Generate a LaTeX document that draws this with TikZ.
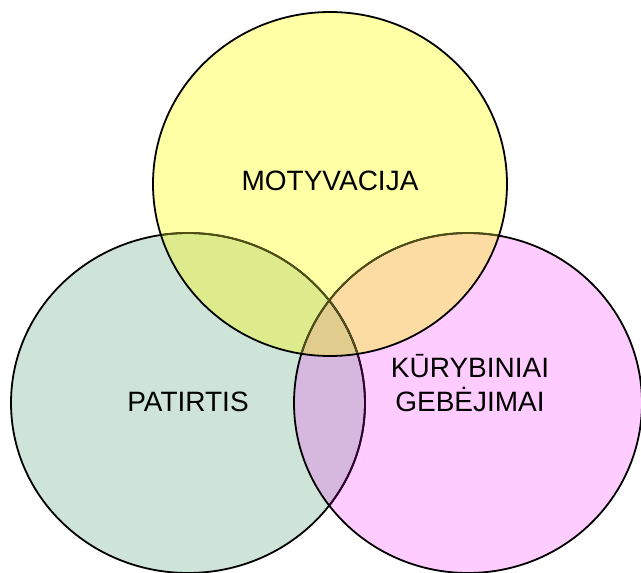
\documentclass[tikz,border=0pt]{standalone}
\usepackage{fontspec}
\setmainfont{Liberation Sans}
\definecolor{cY}{RGB}{255,255,166}
\definecolor{cG}{RGB}{206,228,216}
\definecolor{cP}{RGB}{255,204,255}
\definecolor{cGY}{RGB}{221,235,140}
\definecolor{cPY}{RGB}{253,220,164}
\definecolor{cGP}{RGB}{214,184,222}
\definecolor{cC}{RGB}{224,204,140}
\definecolor{lOl}{RGB}{80,80,20}
\definecolor{lPu}{RGB}{50,0,50}
\tikzset{
  outl/.style={line width=1.8pt},
  lbl/.style={anchor=base, inner sep=0pt, font=\fontsize{28}{34}\selectfont, align=center}
}
\begin{document}
\begin{tikzpicture}[x=1pt,y=-1pt]
\useasboundingbox (0,0) rectangle (641,573);
\clip (0,0) rectangle (641,573);
% base fills
\fill[cG] (188,403) ellipse [x radius=177, y radius=170];
\fill[cP] (468,403) ellipse [x radius=174, y radius=170];
\fill[cY] (330,184) ellipse [x radius=177, y radius=172];
% overlaps
\begin{scope}
  \clip (188,403) ellipse [x radius=177, y radius=170];
  \fill[cGP] (468,403) ellipse [x radius=174, y radius=170];
\end{scope}
\begin{scope}
  \clip (188,403) ellipse [x radius=177, y radius=170];
  \fill[cGY] (330,184) ellipse [x radius=177, y radius=172];
\end{scope}
\begin{scope}
  \clip (468,403) ellipse [x radius=174, y radius=170];
  \fill[cPY] (330,184) ellipse [x radius=177, y radius=172];
\end{scope}
\begin{scope}
  \clip (188,403) ellipse [x radius=177, y radius=170];
  \clip (468,403) ellipse [x radius=174, y radius=170];
  \fill[cC] (330,184) ellipse [x radius=177, y radius=172];
\end{scope}
% outlines
\draw[outl] (188,403) ellipse [x radius=177, y radius=170];
\begin{scope}
  \clip (468,403) ellipse [x radius=174, y radius=170];
  \draw[outl, lPu] (188,403) ellipse [x radius=177, y radius=170];
\end{scope}
\draw[outl] (468,403) ellipse [x radius=174, y radius=170];
\begin{scope}
  \clip (330,184) ellipse [x radius=177, y radius=172];
  \draw[outl, lOl] (188,403) ellipse [x radius=177, y radius=170];
  \draw[outl, lOl] (468,403) ellipse [x radius=174, y radius=170];
\end{scope}
\draw[outl] (330,184) ellipse [x radius=177, y radius=172];
% labels
\node[lbl] (mot) at (330,190) {MOTYVACIJA};
\node[lbl] (pat) at (188,411) {PATIRTIS};
\node[lbl] (kur) at (470,377) {KŪRYBINIAI};
\node[lbl] (geb) at (470,411) {GEBĖJIMAI};
\end{tikzpicture}
\end{document}
